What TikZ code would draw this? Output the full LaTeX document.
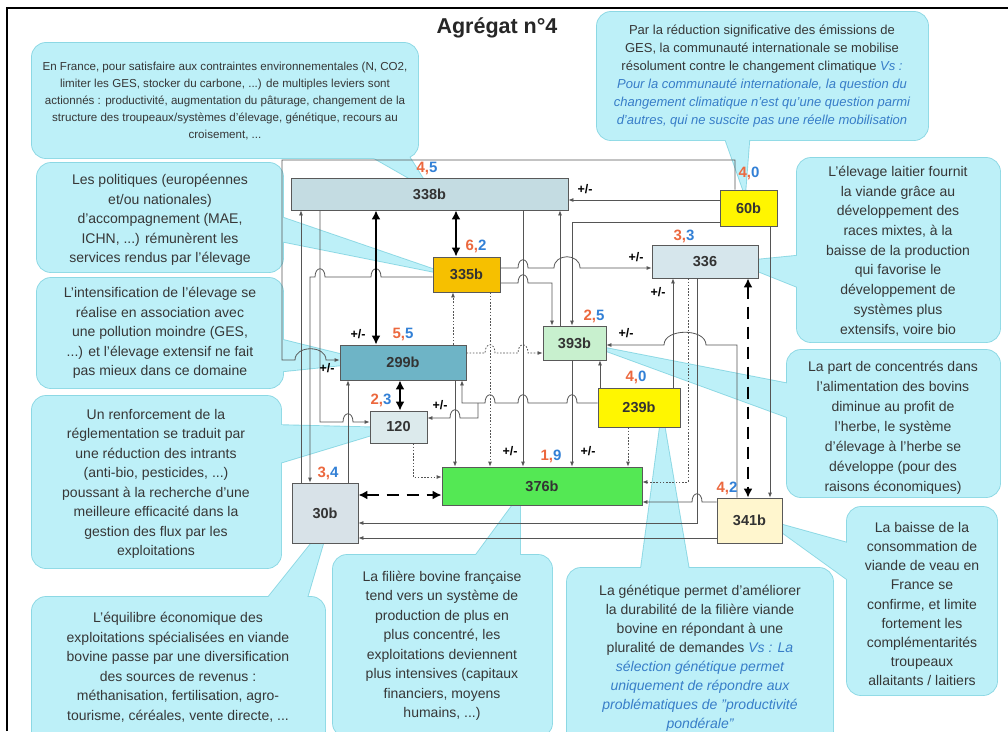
\documentclass[tikz,border=0pt]{standalone}
\usepackage{fontspec}
\setmainfont{Liberation Sans}
\usetikzlibrary{arrows.meta}

\definecolor{cfill}{RGB}{189,240,248}
\definecolor{cline}{RGB}{140,216,228}
\definecolor{ctext}{RGB}{55,55,55}
\definecolor{cblue}{RGB}{55,125,200}
\definecolor{wirec}{RGB}{85,85,85}
\definecolor{numA}{RGB}{236,104,62}
\definecolor{numB}{RGB}{50,128,214}
\definecolor{f338}{RGB}{196,220,226}
\definecolor{f60}{RGB}{255,246,0}
\definecolor{f335}{RGB}{246,192,0}
\definecolor{f336}{RGB}{214,230,236}
\definecolor{f299}{RGB}{110,180,198}
\definecolor{f393}{RGB}{200,240,206}
\definecolor{f239}{RGB}{255,246,0}
\definecolor{f120}{RGB}{220,234,236}
\definecolor{f376}{RGB}{84,232,84}
\definecolor{f30}{RGB}{216,226,232}
\definecolor{f341}{RGB}{255,246,206}

\tikzset{
  wire/.style={draw=wirec, line width=0.8pt, -{Latex[length=5pt,width=4pt]}},
  dotwire/.style={wire, dash pattern=on 1.6pt off 1.6pt},
  heavy/.style={draw=black, line width=2.6pt,
    {Latex[length=9pt,width=9pt]}-{Latex[length=9pt,width=9pt]}},
  heavydash/.style={heavy, dash pattern=on 12pt off 8pt},
  box/.style={draw=black!65, line width=0.8pt, inner sep=0pt,
    font=\fontsize{14.5}{16}\selectfont\bfseries, text=black!80},
  num/.style={inner sep=0pt, font=\fontsize{15}{16}\selectfont\bfseries},
  pm/.style={inner sep=0pt, font=\fontsize{12.5}{13}\selectfont\bfseries},
  ctxt/.style={align=center, text=ctext, inner sep=0pt},
  cbord/.style={draw=cline, line width=1.8pt, line join=round},
  cbox/.style={rounded corners=14pt},
}

\newcommand{\numlab}[2]{\textcolor{numA}{#1,}\textcolor{numB}{#2}}

\begin{document}
\begin{tikzpicture}[x=1pt,y=-1pt]
\useasboundingbox (0,0) rectangle (1008,731);
\fill[white] (0,0) rectangle (1008,731);

% ---------- callouts (box + pointer) ----------
% A -> 338b
\draw[cbord] (360,150) -- (430,190) -- (405,150);
\draw[cbord,cbox] (32,43) rectangle (418,158);
\fill[cfill] (360,150) -- (430,190) -- (405,150) -- cycle;
\fill[cfill,cbox] (32,43) rectangle (418,158);
% B -> 60b
\draw[cbord] (722,130) -- (745,195) -- (750,130);
\draw[cbord,cbox] (597,12) rectangle (928,140);
\fill[cfill] (722,130) -- (745,195) -- (750,130) -- cycle;
\fill[cfill,cbox] (597,12) rectangle (928,140);
% C -> 335b
\draw[cbord] (275,215) -- (450,275) -- (275,240);
\draw[cbord,cbox] (37,163) rectangle (283,272);
\fill[cfill] (275,215) -- (450,275) -- (275,240) -- cycle;
\fill[cfill,cbox] (37,163) rectangle (283,272);
% D -> 299b
\draw[cbord] (275,338) -- (372,362) -- (275,372);
\draw[cbord,cbox] (37,278) rectangle (283,388);
\fill[cfill] (275,338) -- (372,362) -- (275,372) -- cycle;
\fill[cfill,cbox] (37,278) rectangle (283,388);
% E -> 120
\draw[cbord] (273,425) -- (395,428) -- (273,465);
\draw[cbord,cbox] (32,396) rectangle (281,568);
\fill[cfill] (273,425) -- (395,428) -- (273,465) -- cycle;
\fill[cfill,cbox] (32,396) rectangle (281,568);
% F -> 30b
\draw[cbord] (262,605) -- (330,520) -- (305,605);
\draw[cbord,cbox] (32,597) rectangle (325,745);
\fill[cfill] (262,605) -- (330,520) -- (305,605) -- cycle;
\fill[cfill,cbox] (32,597) rectangle (325,745);
% G -> 376b
\draw[cbord] (470,563) -- (520,495) -- (520,563);
\draw[cbord,cbox] (333,555) rectangle (552,737);
\fill[cfill] (470,563) -- (520,495) -- (520,563) -- cycle;
\fill[cfill,cbox] (333,555) rectangle (552,737);
% H -> 239b
\draw[cbord] (640,576) -- (662,412) -- (690,576);
\draw[cbord,cbox] (567,568) rectangle (833,745);
\fill[cfill] (640,576) -- (662,412) -- (690,576) -- cycle;
\fill[cfill,cbox] (567,568) rectangle (833,745);
% I -> 341b
\draw[cbord] (855,545) -- (765,520) -- (855,585);
\draw[cbord,cbox] (847,507) rectangle (997,695);
\fill[cfill] (855,545) -- (765,520) -- (855,585) -- cycle;
\fill[cfill,cbox] (847,507) rectangle (997,695);
% J -> 393b
\draw[cbord] (795,385) -- (590,345) -- (795,420);
\draw[cbord,cbox] (787,350) rectangle (1000,497);
\fill[cfill] (795,385) -- (590,345) -- (795,420) -- cycle;
\fill[cfill,cbox] (787,350) rectangle (1000,497);
% K -> 336
\draw[cbord] (805,255) -- (735,262) -- (805,290);
\draw[cbord,cbox] (797,158) rectangle (1000,342);
\fill[cfill] (805,255) -- (735,262) -- (805,290) -- cycle;
\fill[cfill,cbox] (797,158) rectangle (1000,342);

% ---------- callout texts ----------
\node[ctxt, font=\fontsize{11.6}{17}\selectfont] (tA) at (225,101)
  {En France, pour satisfaire aux contraintes environnementales (N, CO2,\\
   limiter les GES, stocker du carbone, ...) de multiples leviers sont\\
   actionnés : productivité, augmentation du pâturage, changement de la\\
   structure des troupeaux/systèmes d'élevage, génétique, recours au\\
   croisement, ...};
\node[ctxt, font=\fontsize{13}{18}\selectfont] (tB) at (762,76)
  {Par la réduction significative des émissions de\\
   GES, la communauté internationale se mobilise\\
   résolument contre le changement climatique \textcolor{cblue}{\itshape Vs :}\\
   \textcolor{cblue}{\itshape Pour la communauté internationale, la question du}\\
   \textcolor{cblue}{\itshape changement climatique n'est qu'une question parmi}\\
   \textcolor{cblue}{\itshape d'autres, qui ne suscite pas une réelle mobilisation}};
\node[ctxt, font=\fontsize{14}{19.5}\selectfont] (tC) at (160,220)
  {Les politiques (européennes\\ et/ou nationales)\\ d'accompagnement (MAE,\\
   ICHN, ...) rémunèrent les\\ services rendus par l'élevage};
\node[ctxt, font=\fontsize{14}{19.5}\selectfont] (tD) at (160,333)
  {L'intensification de l'élevage se\\ réalise en association avec\\
   une pollution moindre (GES,\\ ...) et l'élevage extensif ne fait\\
   pas mieux dans ce domaine};
\node[ctxt, font=\fontsize{14}{19.5}\selectfont] (tE) at (156,484)
  {Un renforcement de la\\ réglementation se traduit par\\ une réduction des intrants\\
   (anti-bio, pesticides, ...)\\ poussant à la recherche d'une\\
   meilleure efficacité dans la\\ gestion des flux par les\\ exploitations};
\node[ctxt, font=\fontsize{14}{19.5}\selectfont] (tF) at (178,667)
  {L'équilibre économique des\\ exploitations spécialisées en viande\\
   bovine passe par une diversification\\ des sources de revenus :\\
   méthanisation, fertilisation, agro-\\ tourisme, céréales, vente directe, ...};
\node[ctxt, font=\fontsize{14}{19.5}\selectfont] (tG) at (442,646)
  {La filière bovine française\\ tend vers un système de\\ production de plus en\\
   plus concentré, les\\ exploitations deviennent\\ plus intensives (capitaux\\
   financiers, moyens\\ humains, ...)};
\node[ctxt, font=\fontsize{14}{19}\selectfont] (tH) at (700,658)
  {La génétique permet d'améliorer\\ la durabilité de la filière viande\\
   bovine en répondant à une\\ pluralité de demandes \textcolor{cblue}{\itshape Vs : La}\\
   \textcolor{cblue}{\itshape sélection génétique permet}\\
   \textcolor{cblue}{\itshape uniquement de répondre aux}\\
   \textcolor{cblue}{\itshape problématiques de "productivité}\\
   \textcolor{cblue}{\itshape pondérale"}};
\node[ctxt, font=\fontsize{14}{19.2}\selectfont] (tI) at (922,604)
  {La baisse de la\\ consommation de\\ viande de veau en\\ France se\\
   confirme, et limite\\ fortement les\\ complémentarités\\ troupeaux\\
   allaitants / laitiers};
\node[ctxt, font=\fontsize{14}{20}\selectfont] (tJ) at (893,428)
  {La part de concentrés dans\\ l'alimentation des bovins\\ diminue au profit de\\
   l'herbe, le système\\ d'élevage à l'herbe se\\ développe (pour des\\
   raisons économiques)};
\node[ctxt, font=\fontsize{14}{19.7}\selectfont] (tK) at (898,251)
  {L'élevage laitier fournit\\ la viande grâce au\\ développement des\\
   races mixtes, à la\\ baisse de la production\\ qui favorise le\\
   développement de\\ systèmes plus\\ extensifs, voire bio};

% ---------- title ----------
\node[font=\fontsize{21.5}{23}\selectfont\bfseries, text=black!85] (title) at (497,28) {Agrégat n°4};

% ---------- variables ----------
\node[box, fill=f338, minimum width=277pt, minimum height=32pt] (n338) at (429.5,194) {338b};
\node[box, fill=f60,  minimum width=57pt,  minimum height=36pt] (n60)  at (748.5,208) {60b};
\node[box, fill=f335, minimum width=67pt,  minimum height=35pt] (n335) at (466.5,274.5) {335b};
\node[box, fill=f336, minimum width=106pt, minimum height=33pt] (n336) at (705,261.5) {336};
\node[box, fill=f299, minimum width=126pt, minimum height=35pt] (n299) at (403,362.5) {299b};
\node[box, fill=f393, minimum width=63pt,  minimum height=34pt] (n393) at (574.5,343) {393b};
\node[box, fill=f239, minimum width=82pt,  minimum height=39pt] (n239) at (639,407.5) {239b};
\node[box, fill=f120, minimum width=57pt,  minimum height=32pt] (n120) at (398.5,427) {120};
\node[box, fill=f376, minimum width=200pt, minimum height=38pt] (n376) at (542,486) {376b};
\node[box, fill=f30,  minimum width=66pt,  minimum height=60pt] (n30)  at (325,513) {30b};
\node[box, fill=f341, minimum width=65pt,  minimum height=45pt] (n341) at (749.5,520.5) {341b};
\coordinate (split) at (478,403);

% ---------- links ----------
% 60b -> 338b
\draw[wire] (n60.west |- 0,200) -- (n338.east |- 0,200);
% 60b -> 393b
\draw[wire] (n60.west |- 0,222) -- (572,222) -- (572,0 |- n393.north);
% 60b -> 341b
\draw[wire] (770,0 |- n60.south) -- (770,0 |- n341.north);
% 60b -> 299b, round over the top
\draw[wire] (735,0 |- n60.north) -- (735,160) -- (282,160) -- (282,360) -- (295,360)
  .. controls (295,345) and (326,345) .. (326,360) -- (n299.west |- 0,360);
% 335b -> 336
\draw[wire] (n335.east |- 0,268) -- (518,268) .. controls (518,257) and (528,257) .. (528,268)
  -- (554,268) .. controls (554,253) and (580,253) .. (580,268) -- (n336.west |- 0,268);
% 335b -> 393b
\draw[wire] (n335.east |- 0,283) -- (518,283) .. controls (518,272) and (528,272) .. (528,283)
  -- (552,283) -- (552,0 |- n393.north);
% 335b -> 30b
\draw[wire] (n335.west |- 0,277) -- (381,277) .. controls (381,266) and (371,266) .. (371,277)
  -- (325,277) .. controls (325,266) and (315,266) .. (315,277) -- (310,277) -- (310,0 |- n30.north);
% 30b -> 338b
\draw[wire] (301,0 |- n30.north) -- (301,0 |- n338.south);
% 338b -> 120
\draw[wire] (320,0 |- n338.south) -- (320,422) -- (343,422)
  .. controls (343,411) and (353,411) .. (353,422) -- (n120.west |- 0,422);
% 30b -> 299b
\draw[wire] (348,0 |- n30.north) -- (348,0 |- n299.south);
% 299b -> 335b (dotted)
\draw[dotwire] (453,0 |- n299.north) -- (453,0 |- n335.south);
% 299b -> 376b
\draw[wire] (455,0 |- n299.south) -- (455,0 |- n376.north);
% 335b -> 376b (dotted)
\draw[dotwire] (490,0 |- n335.south) -- (490,0 |- n376.north);
% 338b -> 376b
\draw[wire] (523,0 |- n338.south) -- (523,0 |- n376.north);
% 393b -> 338b
\draw[wire] (560,0 |- n393.north) -- (560,0 |- n338.south);
% 393b -> 376b
\draw[wire] (572,0 |- n393.south) -- (572,0 |- n376.north);
% 239b -> 393b
\draw[wire] (600,0 |- n239.north) -- (600,0 |- n393.south);
% 239b -> 376b (dotted)
\draw[dotwire] (628,0 |- n239.south) -- (628,0 |- n376.north);
% 239b -> 336
\draw[wire] (673,0 |- n239.north) -- (673,0 |- n336.south);
% 336 -> 376b (dotted)
\draw[dotwire] (688,0 |- n336.south) -- (688,482) -- (n376.east |- 0,482);
% 336 -> 30b
\draw[wire] (697,0 |- n336.south) -- (697,523) -- (n30.east |- 0,523);
% 341b -> 376b
\draw[wire] (n341.west |- 0,502) -- (702,502) .. controls (702,491) and (692,491) .. (692,502)
  -- (n376.east |- 0,502);
% 341b -> 30b
\draw[wire] (n341.west |- 0,538) -- (n30.east |- 0,538);
% 341b -> 393b
\draw[wire] (737,0 |- n341.north) -- (737,345) -- (706,345)
  .. controls (706,328) and (664,328) .. (664,345) -- (n393.east |- 0,345);
% 299b -> 393b (dotted)
\draw[dotwire] (n299.east |- 0,353) -- (485,353) .. controls (485,342) and (495,342) .. (495,353)
  -- (518,353) .. controls (518,342) and (528,342) .. (528,353) -- (n393.west |- 0,353);
% 120 -> 376b (dotted)
\draw[dotwire] (413,0 |- n120.south) -- (413,477) -- (n376.west |- 0,477);
% 239b -> 299b
\draw[wire] (n239.west |- 0,403) -- (577,403) .. controls (577,392) and (567,392) .. (567,403)
  -- (528,403) .. controls (528,392) and (518,392) .. (518,403)
  -- (495,403) .. controls (495,392) and (485,392) .. (485,403)
  -- (462,403) -- (462,0 |- n299.south);
% 239b -> 120
\draw[wire] (split) -- (478,418) -- (460,418) .. controls (460,407) and (450,407) .. (450,418)
  -- (n120.east |- 0,418);
% strong links
\draw[heavy] (376,0 |- n338.south) -- (376,0 |- n299.north);
\draw[heavy] (456,0 |- n338.south) -- (456,0 |- n335.north);
\draw[heavy] (400,0 |- n299.south) -- (400,0 |- n120.north);
\draw[heavydash] (748,0 |- n336.south) -- (748,0 |- n341.north);
\draw[heavydash] (n30.east |- 0,495) -- (n376.west |- 0,495);

% ---------- signs ----------
\node[pm] (p1) at (585,189) {+/-};
\node[pm] (p2) at (636,257) {+/-};
\node[pm] (p3) at (658,292) {+/-};
\node[pm] (p4) at (626,333) {+/-};
\node[pm] (p5) at (358,334) {+/-};
\node[pm] (p6) at (327,368) {+/-};
\node[pm] (p7) at (440,405) {+/-};
\node[pm] (p8) at (510,451) {+/-};
\node[pm] (p9) at (588,451) {+/-};

% ---------- scores ----------
\node[num] (k338) at (427,168) {\numlab{4}{5}};
\node[num] (k60)  at (749,173) {\numlab{4}{0}};
\node[num] (k335) at (476,246) {\numlab{6}{2}};
\node[num] (k336) at (684,236) {\numlab{3}{3}};
\node[num] (k299) at (403,334) {\numlab{5}{5}};
\node[num] (k393) at (594,316) {\numlab{2}{5}};
\node[num] (k239) at (636,377) {\numlab{4}{0}};
\node[num] (k120) at (381,400) {\numlab{2}{3}};
\node[num] (k376) at (551,456) {\numlab{1}{9}};
\node[num] (k30)  at (328,473) {\numlab{3}{4}};
\node[num] (k341) at (727,488) {\numlab{4}{2}};

% ---------- frame ----------
\draw[line width=2.5pt] (7,731) -- (7,8) -- (1008,8);
\end{tikzpicture}
\end{document}
